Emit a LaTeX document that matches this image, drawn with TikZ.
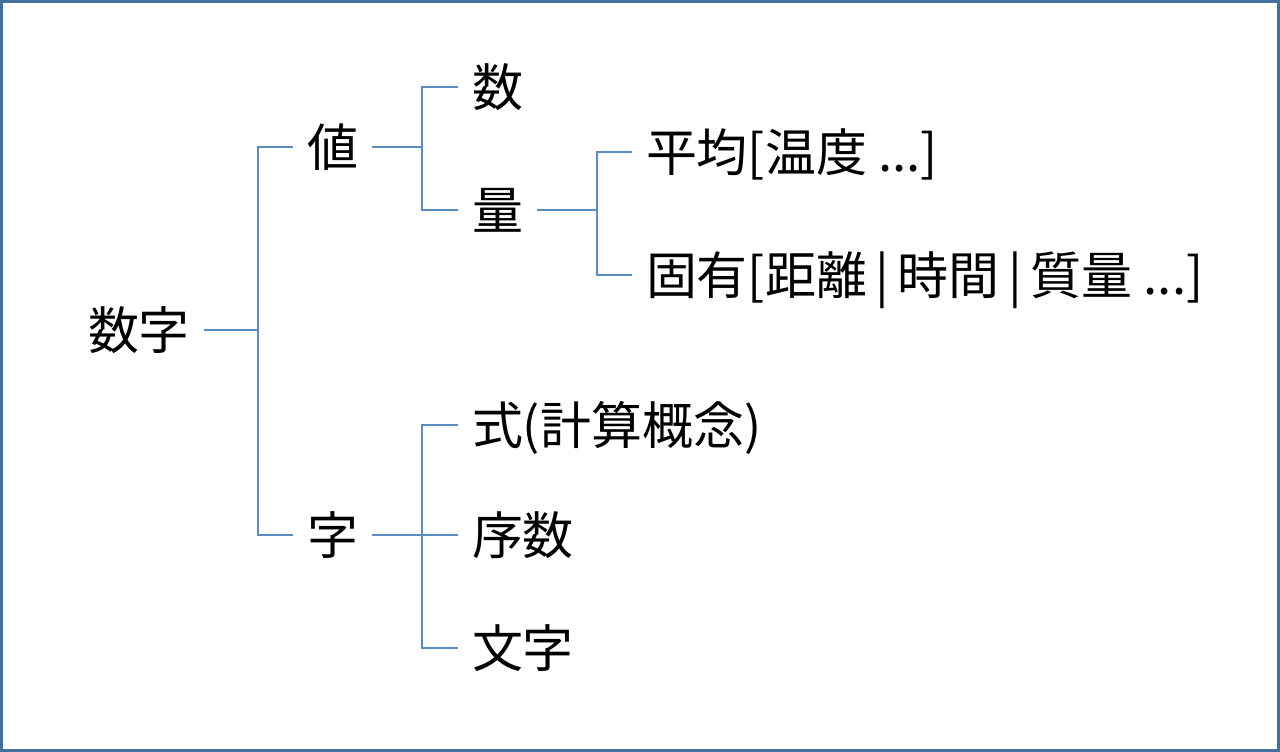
\documentclass[tikz,border=0pt]{standalone}
\usepackage{fontspec}
\newfontfamily\jpfont{Noto Sans CJK JP}
\usepackage{xcolor}
\usepackage{tikz}
\usetikzlibrary{positioning}
\definecolor{framecol}{HTML}{41719C}
\definecolor{linkcol}{HTML}{5B8CC2}

\begin{document}
\begin{tikzpicture}[
  term/.style={anchor=west, inner sep=0pt, outer sep=0.28cm, text height=25.5pt, text depth=3.5pt, font=\jpfont\fontsize{29}{34}\selectfont},
  link/.style={draw=linkcol, line width=0.9pt},
  frame/.style={draw=framecol, line width=1.5pt},
]

  \useasboundingbox (0,0) rectangle (25.6,15.04);
  \draw[frame] (0.027,0.027) rectangle (25.573,15.013);

  \node[term] (digits) at (1.48,8.44) {数字};

  \node[term] (value) at (5.86,12.1) {値};
  \node[term] (letter) at (5.86,4.34) {字};

  \node[term] (number) at (9.16,13.3) {数};
  \node[term] (quantity) at (9.16,10.84) {量};

  \node[term] (average) at (12.64,12.0) {平均[温度 ...]};
  \node[term] (intrinsic) at (12.64,9.54) {固有[距離\,|\,時間\,|\,質量 ...]};

  \node[term] (formula) at (9.16,6.54) {式(計算概念)};
  \node[term] (ordinal) at (9.16,4.34) {序数};
  \node[term] (character) at (9.16,2.08) {文字};

  \coordinate (rootfork) at (5.16,8.44);
  \coordinate (valuefork) at (8.44,12.1);
  \coordinate (qtyfork) at (11.94,10.84);
  \coordinate (letterfork) at (8.44,4.34);

  \draw[link] (digits.east) -- (rootfork);
  \draw[link] (rootfork) |- (value.west);
  \draw[link] (rootfork) |- (letter.west);

  \draw[link] (value.east) -- (valuefork);
  \draw[link] (valuefork) |- (number.west);
  \draw[link] (valuefork) |- (quantity.west);

  \draw[link] (quantity.east) -- (qtyfork);
  \draw[link] (qtyfork) |- (average.west);
  \draw[link] (qtyfork) |- (intrinsic.west);

  \draw[link] (letter.east) -- (letterfork);
  \draw[link] (letterfork) |- (formula.west);
  \draw[link] (letterfork) |- (ordinal.west);
  \draw[link] (letterfork) |- (character.west);
\end{tikzpicture}
\end{document}
